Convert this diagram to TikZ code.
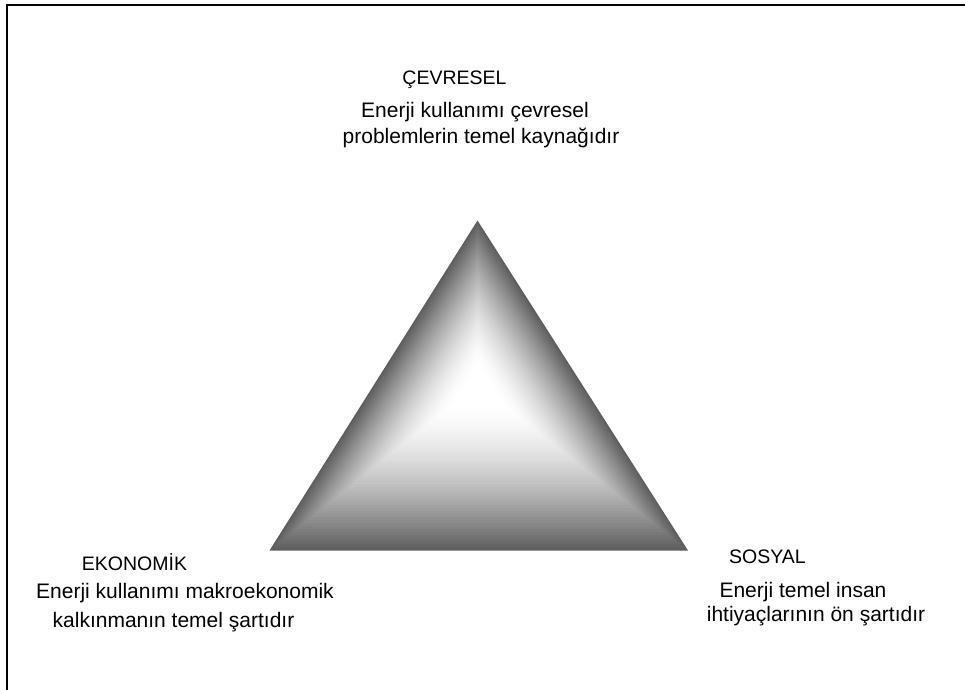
\documentclass[tikz,border=0pt]{standalone}
\usepackage{fontspec}
\setmainfont{Liberation Sans}
\usetikzlibrary{calc}
\begin{document}
\begin{tikzpicture}[x=1pt,y=-1pt,
  head/.style={anchor=base,inner sep=0pt,font=\fontsize{19.5}{22}\selectfont},
  body/.style={anchor=base,inner sep=0pt,font=\fontsize{21}{24}\selectfont}]
\useasboundingbox (0,0) rectangle (965,689);
\clip (0,0) rectangle (965,689);
\fill[white] (0,0) rectangle (965,689);
\draw[line width=2.2pt] (7,5) rectangle (985,710);
% triangle vertices and shading centre
\coordinate (A) at (477.5,220.5);
\coordinate (B) at (269.5,550.5);
\coordinate (C) at (688,550.5);
\coordinate (P) at (478,385);
\foreach \i in {0,...,48}{
  \pgfmathsetmacro\tt{\i/48}
  \pgfmathsetmacro\ss{1-0.88*\tt}
  \pgfmathsetmacro\gg{0.37+0.63*(1-(max(1-\tt,0.0001))^1.6)}
  \definecolor{tc}{gray}{\gg}
  \fill[tc] ($(P)!\ss!(A)$) -- ($(P)!\ss!(B)$) -- ($(P)!\ss!(C)$) -- cycle;
}
% texts
\node[head] (cevt) at (454.5,84) {ÇEVRESEL};
\node[body] (cev1) at (475,117) {Enerji kullanımı çevresel};
\node[body] (cev2) at (481,143) {problemlerin temel kaynağıdır};
\node[head] (ekot) at (134.5,570) {EKONOMİK};
\node[body] (eko1) at (185,598) {Enerji kullanımı makroekonomik};
\node[body] (eko2) at (173.5,627) {kalkınmanın temel şartıdır};
\node[head] (sost) at (767.5,563) {SOSYAL};
\node[body] (sos1) at (803,597) {Enerji temel insan};
\node[body] (sos2) at (816,621) {ihtiyaçlarının ön şartıdır};
\end{tikzpicture}
\end{document}
